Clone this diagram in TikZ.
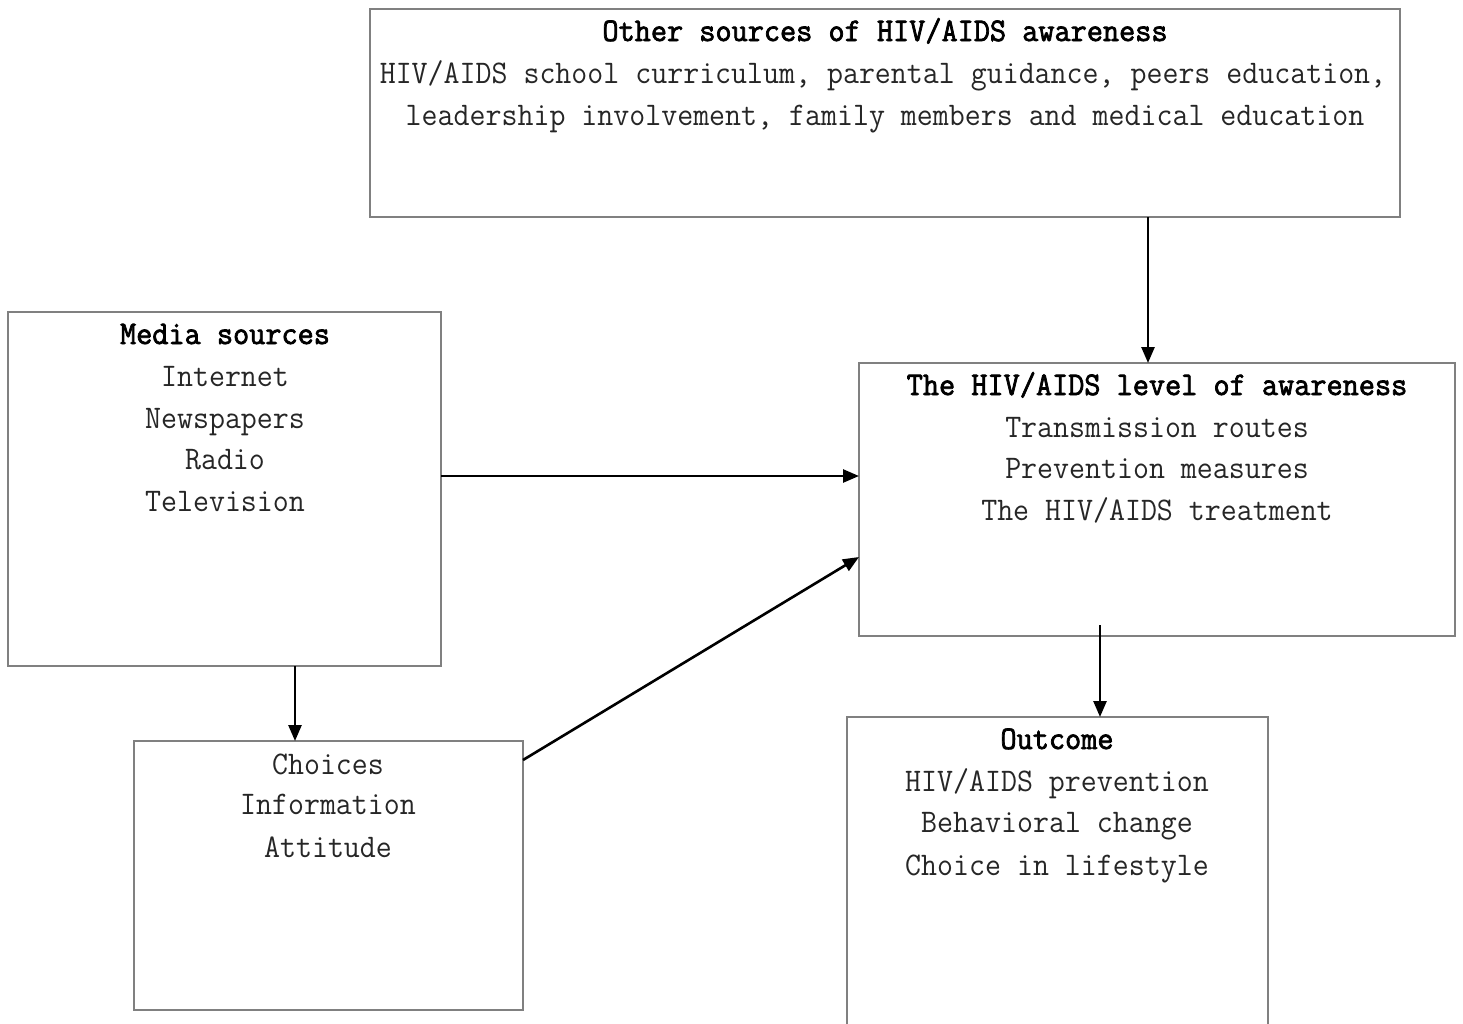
\documentclass[tikz,border=0pt]{standalone}
\usepackage{fontspec}
\newfontfamily\monofam[FakeStretch=0.94]{Latin Modern Mono}
\newfontfamily\monobold[FakeStretch=0.95,FakeBold=2.2]{Latin Modern Mono}
\usetikzlibrary{arrows.meta}
\begin{document}
\begin{tikzpicture}[x=1pt,y=-1pt,
  box/.style={draw=black!50, line width=1.6pt, fill=none, inner sep=0pt, outer sep=0pt, anchor=north west},
  ttl/.style={anchor=base, inner sep=0pt, font=\monobold\fontsize{33}{42}\selectfont},
  txt/.style={anchor=base, inner sep=0pt, text=black!85, font=\monofam\fontsize{33}{42}\selectfont},
  arr/.style={draw=black, line width=2.6pt, -{Triangle[length=16pt,width=13pt]}}]
\useasboundingbox (0,0) rectangle (1463,1023);
\clip (0,0) rectangle (1463,1023);
% boxes
\node[box, minimum width=1030pt, minimum height=208pt] (top) at (370,9) {};
\node[box, minimum width=433pt, minimum height=354pt] (med) at (8,312) {};
\node[box, minimum width=596pt, minimum height=273pt] (aw) at (859,363) {};
\node[box, minimum width=389pt, minimum height=269pt] (ch) at (134,741) {};
\node[box, minimum width=421pt, minimum height=330pt] (out) at (847,717) {};
% texts: top
\node[ttl] (t1) at (885,41) {Other sources of HIV/AIDS awareness};
\node[txt] (t2) at (883,83) {HIV/AIDS school curriculum, parental guidance, peers education,};
\node[txt] (t3) at (885,125) {leadership involvement, family members and medical education};
% media
\node[ttl] (m1) at (225,344) {Media sources};
\node[txt] (m2) at (225,386) {Internet};
\node[txt] (m3) at (225,428) {Newspapers};
\node[txt] (m4) at (225,469) {Radio};
\node[txt] (m5) at (225,511) {Television};
% awareness
\node[ttl] (a1) at (1157,395) {The HIV/AIDS level of awareness};
\node[txt] (a2) at (1157,437) {Transmission routes};
\node[txt] (a3) at (1157,478) {Prevention measures};
\node[txt] (a4) at (1157,520) {The HIV/AIDS treatment};
% choices
\node[txt] (c1) at (328,774) {Choices};
\node[txt] (c2) at (328,814) {Information};
\node[txt] (c3) at (328,857) {Attitude};
% outcome
\node[ttl] (o1) at (1057,749) {Outcome};
\node[txt] (o2) at (1057,791) {HIV/AIDS prevention};
\node[txt] (o3) at (1057,832) {Behavioral change};
\node[txt] (o4) at (1057,875) {Choice in lifestyle};
% connector helpers
\coordinate (xa) at (1148,0);
\coordinate (ya) at (0,476);
\coordinate (yc) at (0,760);
\coordinate (yd) at (0,557);
\coordinate (xm) at (295,0);
\coordinate (s5) at (1100,625);
% connectors
\draw[arr] (top.south -| xa) -- (aw.north -| xa);
\draw[arr] (med.east |- ya) -- (aw.west |- ya);
\draw[arr] (ch.east |- yc) -- (aw.west |- yd);
\draw[arr] (med.south -| xm) -- (ch.north -| xm);
\draw[arr] (s5) -- (out.north -| s5);
\end{tikzpicture}
\end{document}
